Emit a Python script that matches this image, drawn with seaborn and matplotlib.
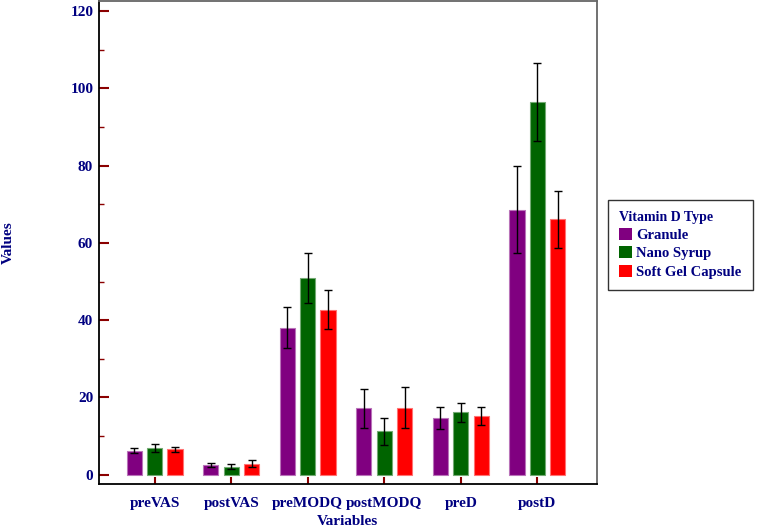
import numpy as np
import pandas as pd
import matplotlib
matplotlib.use("Agg")
import matplotlib.pyplot as plt
import matplotlib.colors as mcolors
import seaborn as sns

# veriler
degiskenler = ["preVAS", "postVAS", "preMODQ", "postMODQ", "preD", "postD"]
gruplar = ["Granule", "Nano Syrup", "Soft Gel Capsule"]
granule = [6.2, 2.5, 38.1, 17.2, 14.7, 68.6]
nano_syrup = [6.9, 2.1, 50.9, 11.3, 16.2, 96.5]
soft_gel = [6.6, 2.8, 42.7, 17.4, 15.2, 66.1]
granule_err = [0.65, 0.55, 5.4, 5.1, 2.9, 11.2]
nano_syrup_err = [1.0, 0.6, 6.4, 3.5, 2.45, 10.0]
soft_gel_err = [0.65, 0.9, 5.1, 5.2, 2.45, 7.4]
renkler = ["#800080", "#006400", "#FF0000"]

lacivert = "#000080"
koyu_kirmizi = "#8B0000"

veri = pd.DataFrame({
    "Variables": degiskenler * 3,
    "Type": [g for g in gruplar for _ in degiskenler],
    "Values": granule + nano_syrup + soft_gel,
    "err": granule_err + nano_syrup_err + soft_gel_err,
})

sns.set_style("white")
plt.rcParams["font.family"] = ["Liberation Serif", "DejaVu Serif"]
plt.rcParams["font.weight"] = "bold"

fig = plt.figure(figsize=(7.6, 5.28), dpi=100)
ax = fig.add_axes([0.130, 0.0833, 0.6555, 0.9147])

sns.barplot(data=veri, x="Variables", y="Values", hue="Type", order=degiskenler,
            hue_order=gruplar, palette=renkler, errorbar=None, width=0.8, gap=0.25,
            saturation=1, ax=ax)

# hata cubuklari: her bar icin
for i, (cont, g) in enumerate(zip(ax.containers, gruplar)):
    alt = veri[veri["Type"] == g]
    xs = [p.get_x() + p.get_width() / 2 for p in cont.patches]
    ax.errorbar(xs, alt["Values"].values, yerr=alt["err"].values, fmt="none",
                ecolor="black", elinewidth=1.0, capsize=2.6, capthick=1.0, zorder=5)
    kenar = mcolors.to_rgb(renkler[i])
    kenar = tuple(0.55 * c + 0.45 for c in kenar)
    for p in cont.patches:
        p.set_edgecolor(kenar)
        p.set_linewidth(0.8)

ax.set_ylim(-2.4, 122.6)
ax.set_xlim(-0.73, 5.78)
ax.set_yticks(np.arange(0, 121, 20))
ax.set_yticks(np.arange(10, 121, 20), minor=True)
ax.tick_params(axis="y", which="major", direction="in", length=7, width=1.5,
               color=koyu_kirmizi, labelsize=11, labelcolor=lacivert, left=True, pad=4)
ax.tick_params(axis="y", which="minor", direction="in", length=3.5, width=1,
               color=koyu_kirmizi, left=True)
ax.tick_params(axis="x", direction="in", length=5, width=1.5, color=koyu_kirmizi,
               labelsize=11, labelcolor=lacivert, bottom=True, pad=9)
for lab in ax.get_xticklabels() + ax.get_yticklabels():
    lab.set_fontweight("bold")

ax.set_xlabel("Variables", fontsize=11, fontweight="bold", color=lacivert, labelpad=4)
ax.set_ylabel("Values", fontsize=11, fontweight="bold", color=lacivert)
ax.yaxis.set_label_coords(-0.168, 0.5)

for s in ["left", "bottom"]:
    ax.spines[s].set_color("black")
    ax.spines[s].set_linewidth(1.3)
for s in ["top", "right"]:
    ax.spines[s].set_color("#666666")
    ax.spines[s].set_linewidth(1.3)

ax.get_legend().remove()
handles = [plt.Rectangle((0, 0), 1, 1, facecolor=c, edgecolor="none") for c in renkler]
leg = fig.legend(handles, gruplar, title="Vitamin D Type", loc="upper left",
                 bbox_to_anchor=(0.8, 0.622), frameon=True, fancybox=False,
                 prop={"size": 10.5, "weight": "bold"}, handlelength=0.9, handleheight=0.9,
                 handletextpad=0.3, labelspacing=0.3, borderpad=0.75, borderaxespad=0,
                 alignment="left")
leg.get_frame().set_edgecolor("black")
leg.get_frame().set_linewidth(1.0)
leg.get_title().set_fontweight("bold")
leg.get_title().set_fontsize(10)
leg.get_title().set_color(lacivert)
for t in leg.get_texts():
    t.set_color(lacivert)

fig.savefig("out.png", dpi=100)
